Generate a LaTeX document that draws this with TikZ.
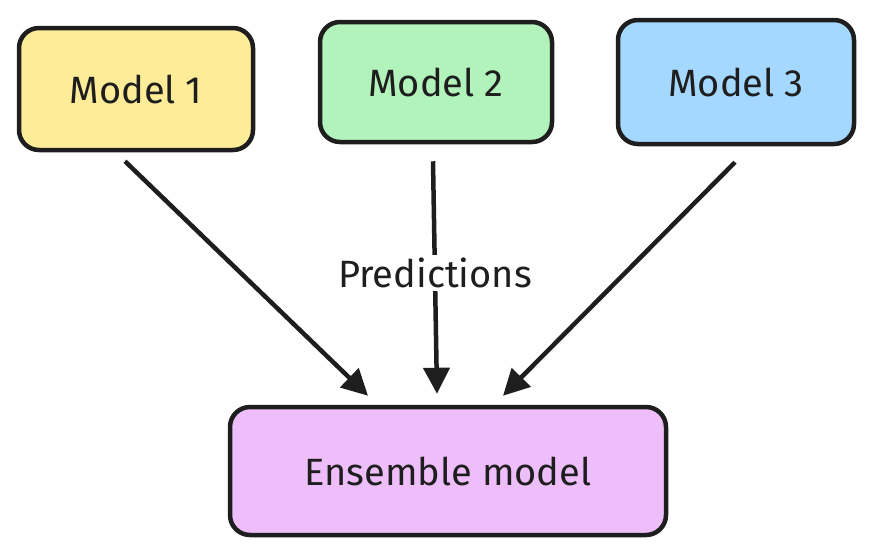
\documentclass[tikz,border=0pt]{standalone}
\usepackage{fontspec}
\setmainfont{Fira Sans}
\usetikzlibrary{positioning,calc,arrows.meta}
\definecolor{myink}{RGB}{30,30,30}
\definecolor{myyellow}{RGB}{255,236,153}
\definecolor{mygreen}{RGB}{178,242,187}
\definecolor{myblue}{RGB}{165,216,255}
\definecolor{mypurple}{RGB}{238,190,250}

\begin{document}
\begin{tikzpicture}[x=1pt,y=-1pt,
  box/.style={draw=myink,line width=4.5pt,rounded corners=20pt,
    font=\fontsize{38}{44}\selectfont,text=myink},
  arr/.style={draw=myink,line width=4.5pt,-{Triangle[length=26pt,width=26pt]}}]

  \useasboundingbox (0,0) rectangle (873,558);

  \node[box,fill=myyellow,minimum width=234pt,minimum height=122pt] (m1) at (136,89) {Model 1};
  \node[box,fill=mygreen,minimum width=232pt,minimum height=120pt] (m2) at (436,82) {Model 2};
  \node[box,fill=myblue,minimum width=236pt,minimum height=124pt] (m3) at (736,82) {Model 3};
  \node[box,fill=mypurple,minimum width=436pt,minimum height=128pt] (ens) at (448,471) {Ensemble model};

  \draw[arr] ([xshift=-11pt,yshift=-9pt]m1.south) -- ([xshift=-80pt,yshift=9pt]ens.north);
  \draw[arr] ([xshift=-3pt,yshift=-17pt]m2.south) -- ([xshift=-11pt,yshift=11pt]ens.north)
    node[pos=0.48,fill=white,inner sep=3pt,text=myink,font=\fontsize{38}{44}\selectfont] (pred) {Predictions};
  \draw[arr] ([xshift=-1pt,yshift=-16pt]m3.south) -- ([xshift=55pt,yshift=9pt]ens.north);
\end{tikzpicture}
\end{document}
